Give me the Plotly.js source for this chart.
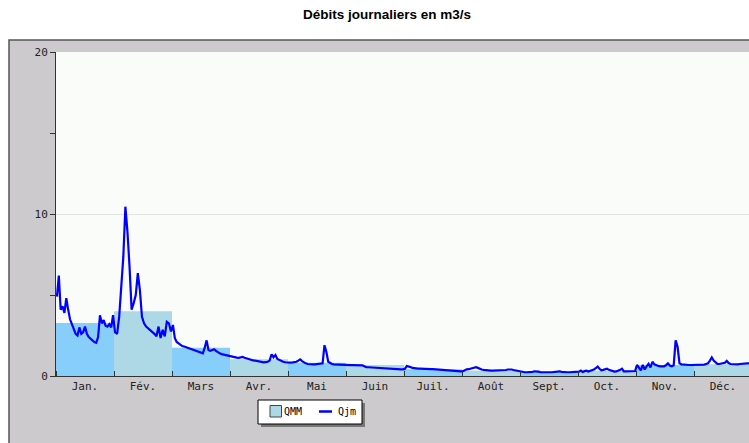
<!DOCTYPE html>
<html>
<head>
<meta charset="utf-8">
<script src="https://cdn.plot.ly/plotly-3.0.1.min.js"></script>
<style>html,body{margin:0;padding:0;background:#fff;}#chart{width:749px;height:443px;}</style>
</head>
<body>
<div id="chart"></div>
<script>
// Month labels
const months = ['Jan.','Fév.','Mars','Avr.','Mai','Juin','Juil.','Août','Sept.','Oct.','Nov.','Déc.'];
// Legend labels
const seriesNames = ['QMM', 'Qjm'];
// QMM: monthly mean discharge (m3/s)
const qmm = [3.27, 4.0, 1.75, 1.03, 0.82, 0.68, 0.41, 0.33, 0.24, 0.33, 0.68, 0.72];
// Qjm: daily discharge per month (m3/s)
const qjmJan = [4.9,6.2,4.1,4.3,3.9,4.8,4.1,3.5,3.2,2.9,2.6,2.5,3.0,2.6,2.7,3.05,2.6,2.4,2.3,2.15,2.1,2.05,2.4,3.75,3.25,3.45,3.1,3.05,3.2,3.0,3.75];
const qjmFev = [2.7,2.6,3.65,5.5,7.35,10.45,8.9,6.75,4.1,4.5,5.0,6.35,5.3,3.65,3.25,3.05,2.95,2.85,2.75,2.6,2.45,3.05,2.35,2.85,2.45,3.35,3.25,2.75];
const qjmMar = [3.15,2.35,2.1,2.0,1.95,1.85,1.82,1.78,1.74,1.7,1.66,1.6,1.56,1.53,1.48,1.44,1.4,1.75,2.2,1.6,1.55,1.6,1.65,1.55,1.45,1.4,1.35,1.32,1.28,1.25,1.22];
const qjmAvr = [1.2,1.18,1.15,1.13,1.12,1.15,1.18,1.13,1.08,1.04,1.02,0.98,0.95,0.93,0.9,0.86,0.83,0.84,0.86,0.88,0.95,1.34,1.15,1.3,1.05,0.98,0.92,0.88,0.85,0.83];
const qjmMai = [0.82,0.83,0.84,0.86,0.88,0.95,1.03,0.92,0.82,0.78,0.74,0.72,0.72,0.72,0.72,0.73,0.74,0.75,0.78,1.9,1.5,0.88,0.78,0.74,0.72,0.71,0.7,0.7,0.69,0.68,0.68];
const qjmJuin = [0.68,0.68,0.67,0.67,0.67,0.66,0.66,0.66,0.66,0.6,0.54,0.54,0.53,0.53,0.53,0.52,0.52,0.52,0.5,0.48,0.46,0.44,0.43,0.42,0.41,0.41,0.41,0.41,0.41,0.41];
const qjmJuil = [0.45,0.62,0.6,0.55,0.5,0.47,0.45,0.45,0.45,0.44,0.44,0.44,0.44,0.43,0.43,0.43,0.42,0.4,0.38,0.37,0.36,0.35,0.34,0.34,0.33,0.33,0.32,0.31,0.3,0.29,0.28];
const qjmAout = [0.3,0.36,0.41,0.42,0.45,0.48,0.52,0.54,0.5,0.43,0.4,0.38,0.36,0.35,0.33,0.33,0.33,0.33,0.33,0.33,0.33,0.33,0.35,0.37,0.4,0.41,0.4,0.37,0.34,0.33,0.3];
const qjmSept = [0.28,0.25,0.23,0.23,0.23,0.24,0.26,0.29,0.3,0.27,0.24,0.23,0.23,0.23,0.23,0.23,0.23,0.24,0.28,0.3,0.29,0.26,0.24,0.23,0.23,0.23,0.23,0.23,0.23,0.23];
const qjmOct = [0.27,0.33,0.25,0.3,0.33,0.28,0.32,0.35,0.4,0.48,0.58,0.45,0.35,0.38,0.43,0.45,0.38,0.34,0.3,0.27,0.28,0.32,0.38,0.45,0.28,0.29,0.3,0.31,0.31,0.31,0.31];
const qjmNov = [0.68,0.5,0.35,0.68,0.4,0.6,0.75,0.53,0.88,0.72,0.66,0.62,0.6,0.58,0.6,0.66,0.78,0.65,0.6,0.66,2.2,1.8,0.78,0.72,0.7,0.69,0.69,0.68,0.68,0.68];
const qjmDec = [0.68,0.68,0.68,0.68,0.68,0.7,0.74,0.78,0.95,1.15,0.95,0.82,0.75,0.74,0.76,0.78,0.82,0.93,0.8,0.74,0.73,0.72,0.72,0.72,0.74,0.76,0.78,0.78,0.78,0.78,0.78];

const daily = [qjmJan,qjmFev,qjmMar,qjmAvr,qjmMai,qjmJuin,qjmJuil,qjmAout,qjmSept,qjmOct,qjmNov,qjmDec];
const lx = [], ly = [];
daily.forEach((arr, m) => {
  const n = arr.length;
  arr.forEach((v, d) => { lx.push(m + (d + 0.5) / n); ly.push(v); });
});

const centers = months.map((_, i) => i + 0.5);
const evenX = [], evenY = [], oddX = [], oddY = [];
qmm.forEach((v, i) => {
  if (i % 2 === 0) { evenX.push(i + 0.5); evenY.push(v); }
  else { oddX.push(i + 0.5); oddY.push(v); }
});

const mono = 'DejaVu Sans Mono, monospace';
const W = 749, H = 443, L = 56, T = 52, B = 67;
const pw = W - L, ph = H - T - B;
const px = (x) => (x - L) / pw;
const py = (y) => (H - B - y) / ph;
const COL_LIGHT = '#ADD8E6', COL_SKY = '#87CEFA', COL_LINE = '#0000FF';

const traces = [
  {type:'bar', x: oddX, y: oddY, width: 1, name: seriesNames[0], marker:{color: COL_LIGHT, line:{width:0}}, hoverinfo:'skip'},
  {type:'bar', x: evenX, y: evenY, width: 1, name: seriesNames[0], marker:{color: COL_SKY, line:{width:0}}, hoverinfo:'skip'},
  {type:'scatter', mode:'lines', x: lx, y: ly, name: seriesNames[1], line:{color: COL_LINE, width:2.2}, hoverinfo:'skip'}
];

const paperRect = (x0, y0, x1, y1, fill, line) => ({type:'rect', xref:'paper', yref:'paper',
  x0: px(x0), x1: px(x1), y0: py(y1), y1: py(y0), fillcolor: fill, line: line || {width:0}, layer:'above'});

const layout = {
  width: W, height: H,
  margin: {l: L, r: 0, t: T, b: B, pad: 0},
  paper_bgcolor: '#FFFFFF',
  plot_bgcolor: 'rgba(0,0,0,0)',
  barmode: 'overlay',
  showlegend: false,
  title: {text: 'Débits journaliers en m3/s', font: {family: 'Liberation Sans, Arial, sans-serif', size: 13.5, color: '#000', weight: 'bold'},
          xref: 'container', yref: 'container', x: 387/749, xanchor: 'center', y: 1 - 14/443, yanchor: 'middle'},
  xaxis: {
    range: [0, 12 * pw / 696], fixedrange: true,
    tickmode: 'array', tickvals: centers, ticktext: months, ticks: '',
    tickfont: {family: mono, size: 11, color: '#222'},
    showgrid: false, zeroline: false,
    showline: true, linecolor: '#333', linewidth: 1,
    minor: {tick0: 0, dtick: 1, ticks: 'inside', ticklen: 5, tickcolor: '#333', showgrid: false}
  },
  yaxis: {
    range: [0, 20], fixedrange: true,
    tickmode: 'array', tickvals: [0, 10, 20], ticks: 'outside', ticklen: 5, tickcolor: '#333',
    tickfont: {family: mono, size: 11, color: '#222'},
    showgrid: true, gridcolor: '#E4E4E4', gridwidth: 1, zeroline: false,
    showline: true, linecolor: '#333', linewidth: 1,
    minor: {dtick: 5, ticks: 'outside', ticklen: 5, tickcolor: '#333', showgrid: false}
  },
  shapes: [
    {type:'rect', xref:'paper', yref:'paper', x0: px(9), x1: 1.05, y0: -0.5, y1: py(40), fillcolor:'#CCCACC', line:{color:'#555', width:1.5}, layer:'below'},
    {type:'rect', xref:'paper', yref:'paper', x0: 0, x1: 1, y0: 0, y1: 1, fillcolor:'#FAFCFA', line:{width:0}, layer:'below'},
    // legend box with shadow
    paperRect(261, 403, 365, 427, '#777777'),
    paperRect(258, 400, 362, 424, '#FFFFFF', {color:'#000', width:1}),
    paperRect(270, 405.5, 281.5, 417, COL_LIGHT, {color:'#444', width:1}),
    {type:'line', xref:'paper', yref:'paper', x0: px(319), x1: px(332), y0: py(411.5), y1: py(411.5), line:{color: COL_LINE, width:2.5}, layer:'above'}
  ],
  annotations: [
    {xref:'paper', yref:'paper', x: px(282), y: py(411.5), xanchor:'left', yanchor:'middle', text: seriesNames[0], showarrow:false,
     font:{family: mono, size: 10, color:'#000'}},
    {xref:'paper', yref:'paper', x: px(336), y: py(411.5), xanchor:'left', yanchor:'middle', text: seriesNames[1], showarrow:false,
     font:{family: mono, size: 10, color:'#000'}}
  ]
};

Plotly.newPlot('chart', traces, layout, {staticPlot: true, displayModeBar: false});
</script>
</body>
</html>
